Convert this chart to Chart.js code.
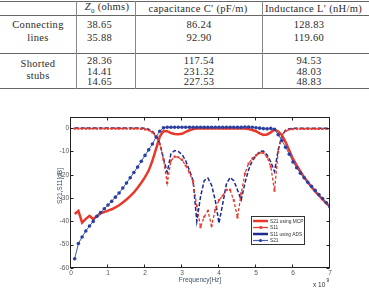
<!DOCTYPE html>
<html>
<head>
<meta charset="utf-8">
<script src="https://cdn.jsdelivr.net/npm/chart.js@4.4.0/dist/chart.umd.min.js"></script>
<style>
  html, body { margin: 0; padding: 0; background: #fff; overflow: hidden; }
  #wrap { position: relative; width: 369px; height: 289px; overflow: hidden; }
  #tbl { position: absolute; left: 0; top: 0; width: 369px; height: 92px; overflow: hidden;
         font-family: "Liberation Serif", serif; font-size: 10.5px; color: #2a2a2a; }
  .hl { position: absolute; left: 0; width: 369px; height: 1px; background: #666; }
  .vl { position: absolute; top: 1px; height: 88px; width: 1px; background: #888; }
  .c { position: absolute; transform: translate(-50%, -50%); white-space: nowrap; letter-spacing: 0.3px; }
  .l { position: absolute; transform: translate(0, -50%); white-space: nowrap; letter-spacing: 0.3px; }
  canvas { position: absolute; left: 0; top: 0; }
</style>
</head>
<body>
<div id="wrap">
  <div id="tbl"></div>
  <canvas id="chart" width="369" height="289"></canvas>
</div>
<script>
// table data
const groups = [["Connecting", "lines"], ["Shorted", "stubs"]];
const z0 = ["38.65", "35.88", "28.36", "14.41", "14.65"];
const capacitance = ["86.24", "92.90", "117.54", "231.32", "227.53"];
const inductance = ["128.83", "119.60", "94.53", "48.03", "48.83"];

// chart data (frequency in GHz, x 10^9 Hz)
const freq = [0.1, 0.2, 0.3, 0.4, 0.5, 0.6, 0.7, 0.8, 0.9, 1.0,
              1.1, 1.2, 1.3, 1.4, 1.5, 1.6, 1.7, 1.8, 1.9, 2.0,
              2.1, 2.2, 2.3, 2.4, 2.5, 2.6, 2.7, 2.8, 2.9, 3.0,
              3.1, 3.2, 3.3, 3.4, 3.5, 3.6, 3.7, 3.8, 3.9, 4.0,
              4.1, 4.2, 4.3, 4.4, 4.5, 4.6, 4.7, 4.8, 4.9, 5.0,
              5.1, 5.2, 5.3, 5.4, 5.5, 5.6, 5.7, 5.8, 5.9, 6.0,
              6.1, 6.2, 6.3, 6.4, 6.5, 6.6, 6.7, 6.8, 6.9, 7.0];

const s21Mcp = [-36.8, -35.5, -40.5, -38.9, -37.6, -39.0, -37.8, -36.5, -36.0, -35.4,
                -34.8, -34.0, -33.1, -31.9, -30.6, -29.2, -27.6, -25.6, -23.4, -21.0,
                -18.2, -14.0, -8.8, -3.6, -1.2, -1.3, -2.1, -2.5, -2.6, -2.4,
                -1.6, -0.9, -0.4, -0.2, -0.2, -0.2, -0.2, -0.2, -0.2, -0.2,
                -0.2, -0.2, -0.2, -0.2, -0.2, -0.2, -0.2, -0.4, -0.8, -1.3,
                -2.2, -2.9, -2.7, -1.8, -0.6, -1.4, -3.0, -6.0, -9.6, -13.2,
                -16.0, -18.6, -21.0, -23.2, -25.2, -27.1, -28.9, -30.6, -32.2, -33.8];

const s11 = [-0.2, -0.2, -0.2, -0.2, -0.2, -0.2, -0.2, -0.2, -0.2, -0.2,
             -0.2, -0.2, -0.2, -0.2, -0.2, -0.2, -0.2, -0.2, -0.3, -0.5,
             -0.9, -1.8, -3.6, -7.0, -13.5, -23.5, -14.0, -12.2, -12.5, -13.6,
             -16.0, -19.0, -23.2, -33.5, -42.5, -38.0, -35.5, -41.8, -35.0, -30.8,
             -29.0, -26.5, -26.5, -31.0, -38.3, -28.0, -19.5, -15.2, -13.0, -11.7,
             -10.6, -10.6, -12.4, -16.5, -26.8, -10.0, -3.0, -1.2, -0.6, -0.4,
             -0.3, -0.3, -0.3, -0.3, -0.3, -0.3, -0.3, -0.3, -0.3, -0.3];

const s11Ads = [0.1, 0.1, 0.1, 0.1, 0.1, 0.1, 0.1, 0.1, 0.1, 0.1,
                0.1, 0.1, 0.1, 0.1, 0.1, 0.1, 0.1, 0.1, 0.1, -0.1,
                -0.5, -1.4, -3.2, -6.5, -13.0, -19.0, -11.0, -9.6, -10.0, -11.3,
                -14.0, -18.0, -22.6, -40.0, -29.5, -22.5, -21.4, -24.5, -31.0, -40.8,
                -32.5, -24.0, -21.2, -22.5, -26.5, -30.8, -23.6, -17.8, -14.0, -11.8,
                -10.0, -9.8, -11.5, -14.5, -18.6, -9.3, -3.2, -0.8, -0.3, 0.0,
                0.0, 0.0, 0.0, 0.0, 0.0, 0.0, 0.0, 0.0, 0.0, 0.0];

const s21 = [-56.0, -49.5, -46.7, -44.1, -42.0, -40.0, -37.8, -36.2, -34.6, -33.0,
             -31.4, -29.6, -27.8, -25.7, -23.5, -21.3, -19.0, -16.7, -14.2, -11.7,
             -9.3, -6.8, -3.8, -1.3, 0.2, 0.4, 0.4, 0.4, 0.4, 0.4,
             0.4, 0.4, 0.4, 0.4, 0.4, 0.4, 0.4, 0.4, 0.4, 0.4,
             0.4, 0.4, 0.4, 0.4, 0.4, 0.4, 0.5, 0.5, 0.4, 0.2,
             0.0, -0.2, -0.3, -0.1, -0.5, -2.8, -5.3, -8.2, -11.2, -14.5,
             -17.0, -19.3, -21.3, -23.2, -25.0, -26.7, -28.5, -30.2, -32.0, -33.8];

const xTicks = [0, 1, 2, 3, 4, 5, 6, 7];
const yTicks = [-60, -50, -40, -30, -20, -10, 0];

// build the table
const tbl = document.getElementById("tbl");
function put(cls, html, x, y) {
  const d = document.createElement("div");
  d.className = cls;
  d.innerHTML = html;
  d.style.left = x + "px";
  d.style.top = y + "px";
  tbl.appendChild(d);
}
[0.5, 15, 53, 88].forEach(y => {
  const d = document.createElement("div");
  d.className = "hl"; d.style.top = y + "px"; tbl.appendChild(d);
});
[76, 135, 262].forEach(x => {
  const d = document.createElement("div");
  d.className = "vl"; d.style.left = x + "px"; tbl.appendChild(d);
});
put("c", "<i>Z</i><sub style='font-size:7px'>0</sub> (ohms)", 107, 8);
put("c", "capacitance C&prime; (pF/m)", 198, 8);
put("l", "Inductance L&prime; (nH/m)", 265, 8);
put("c", groups[0][0], 38, 24);
put("c", groups[0][1], 38, 37);
put("c", groups[1][0], 38, 63);
put("c", groups[1][1], 38, 74.5);
const rowY = [24, 37, 60, 70.7, 81];
rowY.forEach((y, i) => {
  put("c", z0[i], 99.5, y);
  put("c", capacitance[i], 199, y);
  put("c", inductance[i], 309, y);
});

// chart
const toXY = arr => freq.map((f, i) => ({ x: f, y: arr[i] }));
const RED = "#e8382c", NAVY = "#1b2a8e", BLUE = "#4460b8", BLUE_PT = "#2a3fa0";

const series = [
  { label: "S21", data: toXY(s21), borderColor: BLUE, borderWidth: 1,
    pointRadius: 1.8, pointBackgroundColor: BLUE_PT, pointBorderColor: BLUE_PT, pointBorderWidth: 0 },
  { label: "S11", data: toXY(s11), borderColor: RED, borderWidth: 1.3, borderDash: [3, 2],
    pointRadius: 1.5, pointStyle: "rect", pointBackgroundColor: RED, pointBorderColor: RED, pointBorderWidth: 0 },
  { label: "S11 using ADS", data: toXY(s11Ads), borderColor: NAVY, borderWidth: 1.5, borderDash: [4, 2],
    pointRadius: 0 },
  { label: "S21 using MCP", data: toXY(s21Mcp), borderColor: RED, borderWidth: 2.5, pointRadius: 0 }
];

const frame = {
  id: "frame",
  afterDraw(chart) {
    const { ctx, chartArea: a, scales } = chart;
    ctx.save();
    ctx.strokeStyle = "#222";
    ctx.lineWidth = 1;
    const L = Math.round(a.left) - 0.5, R = Math.round(a.right) - 0.5;
    const T = Math.round(a.top) + 0.5, B = Math.round(a.bottom) - 0.5;
    ctx.strokeRect(L, T, R - L, B - T);
    ctx.beginPath();
    xTicks.forEach(v => {
      const x = Math.round(scales.x.getPixelForValue(v)) - 0.5;
      ctx.moveTo(x, B); ctx.lineTo(x, B - 3);
      ctx.moveTo(x, T); ctx.lineTo(x, T + 3);
    });
    yTicks.forEach(v => {
      const y = Math.round(scales.y.getPixelForValue(v)) + 0.5;
      ctx.moveTo(L, y); ctx.lineTo(L + 3, y);
      ctx.moveTo(R, y); ctx.lineTo(R - 3, y);
    });
    ctx.stroke();

    // axis titles
    ctx.fillStyle = "#3a5068";
    ctx.font = "6.5px 'Liberation Sans'";
    ctx.textAlign = "center";
    ctx.textBaseline = "middle";
    ctx.fillText("Frequency[Hz]", 200, 280);
    ctx.save();
    ctx.translate(60, 186);
    ctx.rotate(-Math.PI / 2);
    ctx.fillText("S21,S11[dB]", 0, 0);
    ctx.restore();
    ctx.fillStyle = "#333";
    ctx.textAlign = "left";
    ctx.fillText("x 10", 313, 285.5);
    ctx.font = "5px 'Liberation Sans'";
    ctx.fillText("9", 326.5, 281);

    // legend
    const bx = 251, by = 216, bw = 53, bh = 28;
    ctx.fillStyle = "#fff";
    ctx.fillRect(bx, by, bw, bh);
    ctx.strokeStyle = "#333";
    ctx.strokeRect(bx + 0.5, by + 0.5, bw, bh);
    const rows = [
      { label: "S21 using MCP", color: RED, width: 2.5, pt: null },
      { label: "S11", color: RED, width: 1.3, pt: "rect" },
      { label: "S11 using ADS", color: NAVY, width: 2.5, pt: null },
      { label: "S21", color: BLUE, width: 1.2, pt: "circle" }
    ];
    ctx.font = "4.8px 'Liberation Sans'";
    ctx.textBaseline = "middle";
    rows.forEach((r, i) => {
      const y = by + 5 + i * 6.5;
      ctx.strokeStyle = r.color;
      ctx.lineWidth = r.width;
      ctx.beginPath();
      ctx.moveTo(bx + 2, y); ctx.lineTo(bx + 17, y);
      ctx.stroke();
      if (r.pt === "rect") {
        ctx.fillStyle = r.color;
        ctx.fillRect(bx + 8.5, y - 1.3, 2.6, 2.6);
      } else if (r.pt === "circle") {
        ctx.fillStyle = BLUE_PT;
        ctx.beginPath(); ctx.arc(bx + 9.5, y, 1.6, 0, Math.PI * 2); ctx.fill();
      }
      ctx.fillStyle = "#333";
      ctx.fillText(r.label, bx + 19, y + 0.3);
    });
    ctx.restore();
  }
};

new Chart(document.getElementById("chart").getContext("2d"), {
  type: "line",
  data: { datasets: series },
  options: {
    responsive: false,
    animation: false,
    layout: { padding: { left: 0, right: 39, top: 116.5, bottom: 0 } },
    plugins: { legend: { display: false }, tooltip: { enabled: false } },
    elements: { line: { tension: 0 } },
    scales: {
      x: {
        type: "linear", min: 0, max: 7,
        ticks: { stepSize: 1, color: "#555", padding: 1, maxRotation: 0,
                 font: { family: "Liberation Sans", size: 6.5 } },
        grid: { display: false, drawTicks: false, tickLength: 0 }, border: { display: false },
        afterFit(s) { s.height = 21; }
      },
      y: {
        min: -60, max: 5,
        ticks: { stepSize: 10, color: "#555", padding: 2,
                 font: { family: "Liberation Sans", size: 6.5 },
                 callback: v => (yTicks.includes(v) ? v : null) },
        grid: { display: false, drawTicks: false, tickLength: 0 }, border: { display: false },
        afterFit(s) { s.width = 71; }
      }
    }
  },
  plugins: [frame]
});
</script>
</body>
</html>
